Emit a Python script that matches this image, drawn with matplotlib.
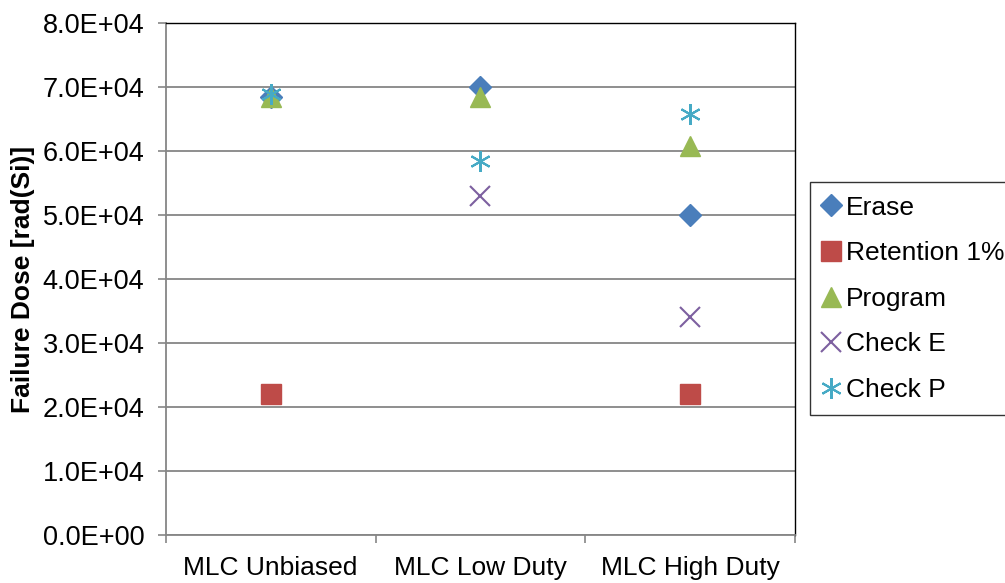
import numpy as np
import matplotlib.pyplot as plt

plt.rcParams['font.family'] = ['Liberation Sans', 'DejaVu Sans']

categories = ["MLC Unbiased", "MLC Low Duty", "MLC High Duty"]

# failure dose per test condition, rad(Si); None = not measured
erase = [6.85e4, 7.0e4, 5.0e4]
retention = [2.2e4, None, 2.2e4]
program = [6.85e4, 6.85e4, 6.08e4]
check_e = [None, 5.3e4, 3.4e4]
check_p = [6.9e4, 5.85e4, 6.58e4]

series = [
    ("Erase", erase, dict(marker="D", color="#4a7ebb", ms=11, mec="#4a7ebb")),
    ("Retention 1%", retention, dict(marker="s", color="#be4b48", ms=14, mec="#be4b48")),
    ("Program", program, dict(marker="^", color="#98b954", ms=15, mec="#98b954")),
    ("Check E", check_e, dict(marker="x", color="#7d60a0", ms=14, mew=1.5)),
    ("Check P", check_p, dict(marker=(6, 2, 0), color="#46aac5", ms=15, mew=1.5)),
]

fig = plt.figure(figsize=(10.05, 5.83), dpi=100)
ax = fig.add_axes([0.165, 0.0823, 0.626, 0.878])

x = np.arange(len(categories))
for name, vals, style in series:
    xs = [xi for xi, v in zip(x, vals) if v is not None]
    ys = [v for v in vals if v is not None]
    ax.plot(xs, ys, linestyle="none", label=name, zorder=3, **style)

ax.set_xlim(-0.5, 2.5)
ax.set_ylim(0, 8e4)
ax.set_yticks(np.arange(0, 8.1e4, 1e4))
ax.set_yticklabels([f"{v / 1e4:.1f}E+04" if v else "0.0E+00" for v in np.arange(0, 8.1e4, 1e4)])
ax.set_xticks(x)
ax.set_xticklabels(categories)
ax.set_xticks(np.arange(-0.5, 2.6, 1), minor=True)
ax.tick_params(axis="x", which="major", length=0, pad=15, labelsize=19)
ax.tick_params(axis="x", which="minor", length=6, color="#868686", width=1.2)
ax.tick_params(axis="y", length=6, color="#868686", width=1.2, labelsize=19.5, pad=9.5)

ax.grid(axis="y", color="#868686", linewidth=1.3, zorder=0)
ax.set_axisbelow(True)
for side in ("left", "bottom"):
    ax.spines[side].set_color("#868686")
    ax.spines[side].set_linewidth(1.3)
for side in ("top", "right"):
    ax.spines[side].set_color("black")
    ax.spines[side].set_linewidth(1.0)

ax.set_ylabel("Failure Dose [rad(Si)]", fontsize=19, fontweight="bold", labelpad=5)

leg = ax.legend(loc="upper left", bbox_to_anchor=(1.024, 0.689), fontsize=19,
                frameon=True, fancybox=False, edgecolor="black",
                handlelength=0.55, handletextpad=0.3, labelspacing=0.82,
                borderpad=0.5, borderaxespad=0)
leg.get_frame().set_linewidth(1.0)

fig.savefig("out.png", dpi=100)
